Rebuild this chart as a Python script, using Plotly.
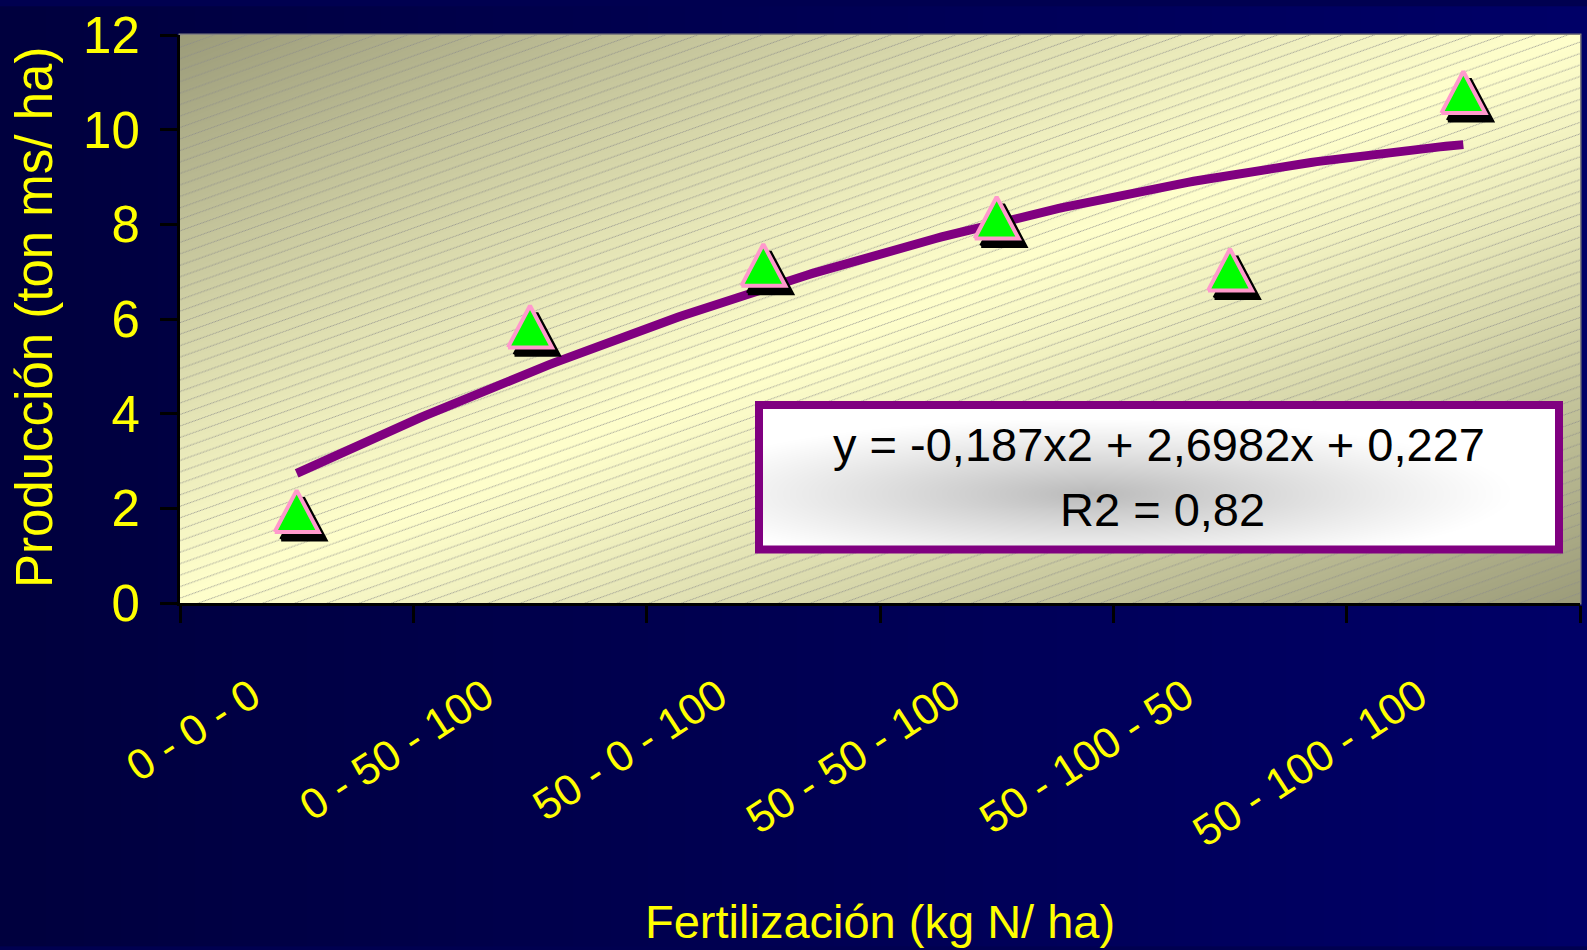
import base64
import struct
import zlib

import numpy as np
import plotly.graph_objects as go

# ---------------- data ----------------
categories = ["0 - 0 - 0", "0 - 50 - 100", "50 - 0 - 100",
              "50 - 50 - 100", "50 - 100 - 50", "50 - 100 - 100"]
produccion = [1.95, 5.85, 7.15, 8.15, 7.05, 10.8]
trend_coefs = [-0.187, 2.6982, 0.227]      # y = a x^2 + b x + c (from the chart label)
trend_label = ["y = -0,187x2 + 2,6982x + 0,227", "R2 = 0,82"]
y_ticks = [0, 2, 4, 6, 8, 10, 12]
x_title = "Fertilización (kg N/ ha)"
y_title = "Producción (ton ms/ ha)"

# ---------------- geometry / style ----------------
W, H = 1587, 950
ML, MR, MT, MB = 180, 7, 29, 347
PW, PH = W - ML - MR, H - MT - MB
XR = [0.5, len(categories) + 0.5]
YR = [0, 12]
YEL = "#FFFF00"
FONT = "Liberation Sans, Arial, sans-serif"


def png_uri(arr):
    arr = np.clip(arr, 0, 255).astype(np.uint8)
    h, w, _ = arr.shape
    raw = b"".join(b"\x00" + arr[i].tobytes() for i in range(h))

    def chunk(tag, data):
        c = struct.pack(">I", len(data)) + tag + data
        return c + struct.pack(">I", zlib.crc32(tag + data) & 0xFFFFFFFF)

    png = (b"\x89PNG\r\n\x1a\n"
           + chunk(b"IHDR", struct.pack(">IIBBBBB", w, h, 8, 2, 0, 0, 0))
           + chunk(b"IDAT", zlib.compress(raw, 9))
           + chunk(b"IEND", b""))
    return "data:image/png;base64," + base64.b64encode(png).decode()


# page background: navy horizontal gradient
gx = np.linspace(0, 1, 256)
page = np.zeros((2, 256, 3))
page[:, :, 2] = 62 + 42 * gx
page_img = png_uri(page)

# plot area: diagonal khaki gradient with fine dotted hatch
yy, xx = np.mgrid[0:PH, 0:PW].astype(float)
s = np.abs(xx / (PW - 1) + yy / (PH - 1) - 1.0) ** 1.15
light = np.array([255, 255, 204.0])
dark = np.array([156, 156, 122.0])
bg = light + (dark - light) * s[..., None]
spacing, slope = 11.6, 0.36
v = (yy + slope * xx) % spacing
d = np.minimum(v, spacing - v)
wgt = np.clip(1.0 - d, 0, 1) * (0.35 + 0.35 * ((xx + yy) % 2 < 1))
bg = bg * (1 - wgt[..., None]) + np.array([140, 140, 140.0]) * wgt[..., None]
plot_img = png_uri(bg)

# equation box fill
BX0, BX1, BY0, BY1 = 759, 1559, 403, 549
bh, bw = BY1 - BY0, BX1 - BX0
by, bx = np.mgrid[0:bh, 0:bw].astype(float)
r = np.sqrt(((bx + BX0 - 1090) / 420.0) ** 2 + ((by + BY0 - 492) / 75.0) ** 2)
shade = 255 - 68 * np.clip(1 - r, 0, 1) ** 1.1
box = np.repeat(shade[..., None], 3, axis=2)
box_img = png_uri(box)


def px_x(p):
    return (p - ML) / PW


def px_y(p):
    return (MT + PH - p) / PH


# ---------------- marks ----------------
xs = np.arange(1, len(categories) + 1)
ux = (XR[1] - XR[0]) / PW     # data units per pixel
uy = (YR[1] - YR[0]) / PH


def triangles(dxp, dyp):
    tx, ty = [], []
    for xv, yv in zip(xs, produccion):
        cx, cy = xv + dxp * ux, yv + dyp * uy
        tx += [cx - 22 * ux, cx + 22 * ux, cx, cx - 22 * ux, None]
        ty += [cy - 21.5 * uy, cy - 21.5 * uy, cy + 20.5 * uy, cy - 21.5 * uy, None]
    return tx, ty


fig = go.Figure()

tline_x = np.linspace(xs[0], xs[-1], 200)
tline_y = np.polyval(trend_coefs, tline_x)
fig.add_trace(go.Scatter(x=tline_x, y=tline_y, mode="lines",
                         line=dict(color="#800080", width=9), hoverinfo="skip"))

sx, sy = triangles(6.5, -7.5)
fig.add_trace(go.Scatter(x=sx, y=sy, mode="lines", fill="toself", fillcolor="black",
                         line=dict(color="black", width=4), hoverinfo="skip"))
mx, my = triangles(0, 0)
fig.add_trace(go.Scatter(x=mx, y=my, mode="lines", fill="toself", fillcolor="#00FF00",
                         line=dict(color="#FF99CC", width=4), hoverinfo="skip"))
fig.add_trace(go.Scatter(x=xs, y=produccion, mode="markers",
                         marker=dict(size=1, opacity=0), text=categories,
                         hovertemplate="%{text}: %{y}<extra></extra>"))

fig.update_layout(
    width=W, height=H, autosize=False, showlegend=False,
    margin=dict(l=ML, r=MR, t=MT, b=MB, pad=0),
    paper_bgcolor="#000050", plot_bgcolor="rgba(0,0,0,0)",
    images=[
        dict(source=page_img, xref="paper", yref="paper", x=-ML / PW, y=1 + MT / PH,
             sizex=W / PW, sizey=H / PH, xanchor="left", yanchor="top",
             sizing="stretch", layer="below"),
        dict(source=plot_img, xref="x domain", yref="y domain", x=0, y=1,
             sizex=1, sizey=1, xanchor="left", yanchor="top",
             sizing="stretch", layer="below"),
        dict(source=box_img, xref="paper", yref="paper", x=px_x(BX0), y=px_y(BY0),
             sizex=bw / PW, sizey=bh / PH, xanchor="left", yanchor="top",
             sizing="stretch", layer="above"),
    ],
    shapes=[
        dict(type="rect", xref="x domain", yref="y domain", x0=0, x1=1, y0=0, y1=1,
             line=dict(color="#808080", width=3), layer="below"),
        dict(type="rect", xref="paper", yref="paper", x0=px_x(BX0), x1=px_x(BX1),
             y0=px_y(BY1), y1=px_y(BY0), line=dict(color="#800080", width=8),
             layer="above"),
    ],
    xaxis=dict(range=XR, tickvals=list(xs), ticktext=categories, ticks="",
               tickangle=-33, tickfont=dict(family=FONT, size=43, color=YEL),
               ticklabelstandoff=48, ticklabelshift=-45,
               showline=True, linecolor="black", linewidth=3,
               showgrid=False, zeroline=False,
               minor=dict(tickvals=[v + 0.5 for v in range(len(categories) + 1)],
                          ticks="outside", ticklen=17, tickwidth=3, tickcolor="black",
                          showgrid=False)),
    yaxis=dict(range=YR, tickvals=y_ticks, ticks="outside", ticklen=17, tickwidth=3,
               tickcolor="black", tickfont=dict(family=FONT, size=51, color=YEL),
               ticklabelstandoff=10,
               showline=True, linecolor="black", linewidth=3,
               showgrid=False, zeroline=False),
    annotations=[
        dict(text=y_title, xref="paper", yref="paper", x=px_x(34), y=px_y(315),
             textangle=-90, showarrow=False, xanchor="center", yanchor="middle",
             font=dict(family=FONT, size=51, color=YEL)),
        dict(text=x_title, xref="paper", yref="paper", x=px_x(880), y=px_y(925),
             showarrow=False, xanchor="center", yanchor="middle",
             font=dict(family=FONT, size=47, color=YEL)),
        dict(text=trend_label[0], xref="paper", yref="paper", x=px_x(1159), y=px_y(443),
             showarrow=False, xanchor="center", yanchor="middle",
             font=dict(family=FONT, size=47, color="black")),
        dict(text=trend_label[1], xref="paper", yref="paper", x=px_x(1162), y=px_y(509),
             showarrow=False, xanchor="center", yanchor="middle",
             font=dict(family=FONT, size=47, color="black")),
    ],
)

fig.write_html("out.html", config={"displayModeBar": False},
               post_script="document.body.style.margin='0';"
                           "document.body.style.overflow='hidden';")
